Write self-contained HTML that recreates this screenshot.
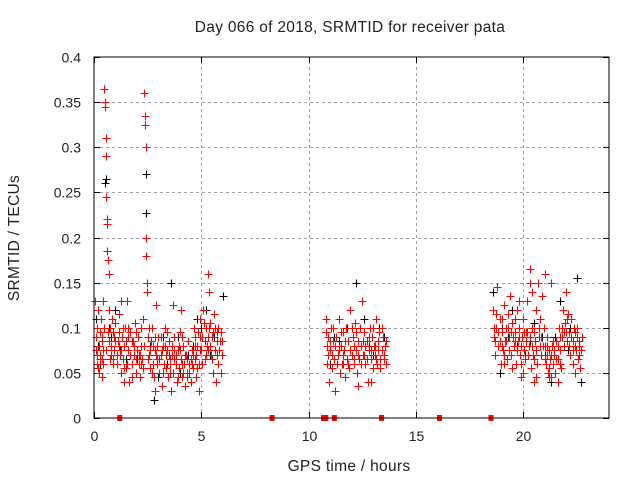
<!DOCTYPE html>
<html><head><meta charset="utf-8"><style>
body{margin:0;background:#fff}
svg text{font-family:"Liberation Sans",sans-serif;font-size:14px;fill:#222}
svg text.big{font-size:15.5px;letter-spacing:0.3px}
</style></head><body>
<svg id="chart" width="640" height="480" xmlns="http://www.w3.org/2000/svg">
<text class="big" x="350" y="32" text-anchor="middle">Day 066 of 2018, SRMTID for receiver pata</text>
<text class="big" x="349" y="471" text-anchor="middle">GPS time / hours</text>
<text class="big" transform="translate(19,238) rotate(-90)" text-anchor="middle">SRMTID / TECUs</text>
<g id="grid"></g>
<g id="ticks"></g>
<g id="black"></g>
<g id="red"></g>
<g id="sq"></g>
<rect x="94" y="57" width="515" height="361" fill="none" stroke="#000" stroke-width="1"/>
</svg>
<script>
const xTicks=[0,5,10,15,20];
const yTicks=[0,0.05,0.1,0.15,0.2,0.25,0.3,0.35,0.4];
const yTickLabels=["0","0.05","0.1","0.15","0.2","0.25","0.3","0.35","0.4"];
const squareTimes=[1.2,8.3,10.7,10.8,11.2,13.4,16.1,18.5];
const blackPts=[[0.1,.11],[0.3,.06],[0.5,.26],[0.55,.265],[0.8,.09],[1.2,.075],[1.6,.1],[2.0,.065],[2.4,.27],[2.42,.227],[2.8,.02],[3.2,.09],[3.6,.15],[4.0,.05],[4.4,.07],[4.8,.11],[5.2,.12],[5.6,.09],[6.0,.135],[11.0,.06],[11.4,.085],[11.8,.1],[12.2,.15],[12.6,.11],[13.0,.07],[13.5,.09],[18.6,.14],[18.9,.05],[19.3,.09],[19.7,.08],[20.1,.07],[20.5,.105],[20.9,.09],[21.3,.04],[21.7,.13],[22.1,.075],[22.5,.155],[22.7,.04],[1.0,.12],[3.0,.045],[0.2,.08],[0.7,.1],[1.5,.065],[2.6,.08],[3.4,.06],[3.9,.09],[4.6,.08],[5.0,.1],[5.4,.07],[5.9,.095],[11.2,.09],[12.0,.07],[12.8,.08],[13.3,.1],[19.0,.1],[19.5,.12],[20.3,.085],[21.0,.07],[21.5,.09],[22.2,.1],[22.6,.08]];
const redPts=[[0.05,.13],[0.1,.09],[0.12,.06],[0.15,.1],[0.2,.12],[0.22,.05],[0.25,.08],[0.3,.07],[0.32,.11],[0.35,.045],[0.38,.09],[0.4,.06],[0.42,.13],[0.45,.1],[0.48,.365],[0.5,.35],[0.52,.345],[0.55,.31],[0.57,.29],[0.58,.245],[0.6,.22],[0.6,.215],[0.62,.185],[0.65,.175],[0.68,.16],[0.7,.12],[0.72,.085],[0.75,.1],[0.8,.07],[0.85,.11],[0.9,.095],[0.95,.075],[1.0,.105],[1.05,.06],[1.1,.085],[1.15,.115],[1.2,.07],[1.25,.05],[1.3,.09],[1.35,.065],[1.4,.08],[1.45,.1],[1.5,.055],[1.55,.13],[1.6,.075],[1.65,.04],[1.7,.095],[1.75,.06],[1.8,.085],[1.85,.07],[1.9,.105],[1.95,.05],[2.0,.075],[2.05,.09],[2.1,.06],[2.15,.045],[2.2,.08],[2.25,.065],[2.3,.11],[2.35,.36],[2.37,.335],[2.38,.325],[2.4,.3],[2.42,.2],[2.44,.18],[2.46,.15],[2.48,.14],[2.5,.09],[2.55,.07],[2.6,.055],[2.65,.085],[2.7,.1],[2.75,.06],[2.8,.045],[2.85,.075],[2.9,.125],[2.95,.065],[3.0,.09],[3.05,.05],[3.1,.07],[3.15,.035],[3.2,.08],[3.25,.06],[3.3,.1],[3.35,.055],[3.4,.075],[3.45,.045],[3.5,.085],[3.55,.065],[3.6,.03],[3.65,.07],[3.7,.05],[3.75,.09],[3.8,.06],[3.85,.04],[3.9,.075],[3.95,.055],[4.0,.095],[4.05,.065],[4.1,.045],[4.15,.08],[4.2,.06],[4.25,.035],[4.3,.07],[4.35,.05],[4.4,.085],[4.45,.06],[4.5,.04],[4.55,.075],[4.6,.055],[4.65,.1],[4.7,.065],[4.75,.045],[4.8,.08],[4.85,.095],[4.9,.06],[4.95,.11],[5.0,.075],[5.05,.09],[5.1,.12],[5.15,.065],[5.2,.1],[5.25,.08],[5.3,.16],[5.35,.14],[5.4,.105],[5.45,.07],[5.5,.09],[5.55,.05],[5.6,.115],[5.65,.075],[5.7,.04],[5.75,.095],[5.8,.06],[5.85,.085],[5.9,.05],[5.95,.07],[0.15,.07],[0.35,.085],[0.55,.075],[0.75,.065],[0.95,.09],[1.15,.08],[1.35,.1],[1.55,.06],[1.75,.085],[1.95,.065],[2.15,.07],[2.35,.08],[2.55,.1],[2.75,.08],[2.95,.06],[3.15,.075],[3.35,.07],[3.55,.05],[3.75,.065],[3.95,.08],[4.15,.05],[4.35,.065],[4.55,.06],[4.75,.07],[4.95,.09],[5.15,.085],[5.35,.1],[5.55,.095],[5.75,.07],[5.95,.085],[1.25,.13],[3.7,.125],[4.05,.12],[1.4,.04],[2.85,.03],[4.9,.03],
[10.8,.11],[10.85,.06],[10.9,.09],[10.95,.04],[11.0,.075],[11.05,.1],[11.1,.055],[11.15,.085],[11.2,.065],[11.25,.03],[11.3,.09],[11.35,.07],[11.4,.11],[11.45,.05],[11.5,.08],[11.55,.06],[11.6,.095],[11.65,.075],[11.7,.045],[11.75,.1],[11.8,.065],[11.85,.085],[11.9,.055],[11.95,.12],[12.0,.07],[12.05,.09],[12.1,.06],[12.15,.105],[12.2,.075],[12.25,.05],[12.3,.085],[12.35,.065],[12.4,.1],[12.45,.08],[12.5,.13],[12.55,.07],[12.6,.095],[12.65,.06],[12.7,.085],[12.75,.04],[12.8,.075],[12.85,.1],[12.9,.065],[12.95,.09],[13.0,.055],[13.05,.08],[13.1,.07],[13.15,.11],[13.2,.06],[13.25,.085],[13.3,.095],[13.35,.065],[13.4,.075],[13.45,.09],[13.5,.07],[13.55,.08],[13.6,.06],[10.85,.08],[11.1,.07],[11.6,.06],[12.1,.08],[12.6,.07],[13.1,.08],[12.9,.04],[12.3,.035],
[18.6,.12],[18.65,.09],[18.7,.07],[18.75,.1],[18.8,.145],[18.85,.08],[18.9,.11],[18.95,.06],[19.0,.095],[19.05,.075],[19.1,.125],[19.15,.085],[19.2,.1],[19.25,.065],[19.3,.115],[19.35,.09],[19.4,.135],[19.45,.07],[19.5,.105],[19.55,.08],[19.6,.095],[19.65,.06],[19.7,.12],[19.75,.085],[19.8,.1],[19.85,.07],[19.9,.045],[19.95,.09],[20.0,.11],[20.05,.075],[20.1,.065],[20.15,.095],[20.2,.13],[20.25,.08],[20.3,.165],[20.35,.055],[20.4,.1],[20.45,.07],[20.5,.04],[20.55,.085],[20.6,.12],[20.65,.06],[20.7,.15],[20.75,.09],[20.8,.11],[20.85,.07],[20.9,.135],[20.95,.1],[21.0,.08],[21.05,.06],[21.1,.09],[21.15,.05],[21.2,.075],[21.25,.065],[21.3,.045],[21.35,.08],[21.4,.06],[21.45,.07],[21.5,.05],[21.55,.085],[21.6,.065],[21.65,.1],[21.7,.075],[21.75,.055],[21.8,.09],[21.85,.12],[21.9,.08],[21.95,.105],[22.0,.14],[22.05,.085],[22.1,.115],[22.15,.095],[22.2,.07],[22.25,.11],[22.3,.06],[22.35,.1],[22.4,.08],[22.45,.075],[22.5,.09],[22.55,.065],[22.6,.085],[22.65,.055],[22.7,.075],[18.7,.085],[19.0,.08],[19.3,.1],[19.6,.085],[19.9,.08],[20.2,.095],[20.5,.065],[20.8,.08],[21.1,.07],[21.4,.085],[21.7,.06],[22.0,.095],[22.3,.085],[22.6,.07],[20.3,.15],[21.0,.16]];
const redPtsExtra=[[0.08,.075],[0.18,.055],[0.28,.095],[0.38,.065],[0.44,.075],[0.66,.095],[0.78,.08],[0.88,.06],[0.98,.085],[1.08,.07],[1.18,.095],[1.28,.075],[1.38,.055],[1.48,.085],[1.58,.1],[1.68,.07],[1.78,.045],[1.88,.08],[1.98,.095],[2.08,.07],[2.18,.1],[2.28,.055],[2.52,.065],[2.62,.075],[2.72,.05],[2.82,.09],[2.92,.08],[3.02,.065],[3.12,.09],[3.22,.05],[3.32,.08],[3.42,.095],[3.52,.06],[3.62,.08],[3.72,.075],[3.82,.07],[3.92,.045],[4.02,.075],[4.12,.09],[4.22,.07],[4.32,.045],[4.42,.05],[4.52,.065],[4.62,.07],[4.72,.09],[4.82,.055],[4.92,.075],[5.02,.06],[5.12,.105],[5.22,.07],[5.32,.09],[5.42,.08],[5.52,.065],[5.62,.1],[5.72,.085],[5.82,.075],[5.92,.095],[0.28,.065],[0.9,.065],[1.6,.09],[2.2,.06],[2.9,.07],[3.5,.07],[4.1,.06],[4.7,.08],[5.3,.075],[5.8,.1],
[10.82,.095],[10.92,.07],[11.02,.085],[11.12,.1],[11.22,.08],[11.32,.06],[11.42,.075],[11.52,.095],[11.62,.07],[11.72,.085],[11.82,.06],[11.92,.075],[12.02,.1],[12.12,.065],[12.22,.095],[12.32,.07],[12.42,.06],[12.52,.085],[12.62,.08],[12.72,.065],[12.82,.09],[12.92,.075],[13.02,.1],[13.12,.065],[13.22,.075],[13.32,.055],[13.42,.1],[13.52,.065],[13.62,.085],
[18.62,.1],[18.72,.115],[18.82,.095],[18.92,.085],[19.02,.11],[19.12,.07],[19.22,.085],[19.32,.075],[19.42,.095],[19.52,.09],[19.62,.11],[19.72,.075],[19.82,.09],[19.92,.06],[20.02,.095],[20.12,.085],[20.22,.07],[20.32,.09],[20.42,.08],[20.52,.095],[20.62,.075],[20.72,.1],[20.82,.09],[20.92,.08],[21.02,.065],[21.12,.08],[21.22,.055],[21.32,.07],[21.42,.075],[21.52,.065],[21.62,.08],[21.72,.09],[21.82,.1],[21.92,.095],[22.02,.11],[22.12,.08],[22.22,.09],[22.32,.075],[22.42,.095],[22.52,.1],[22.62,.08],[22.72,.09],[19.1,.06],[19.5,.055],[20.0,.05],[20.6,.045],[21.2,.045],[21.6,.04],[22.4,.05],[19.8,.13],[20.4,.14],[21.3,.15]];

const X0=94,X1=609,Y0=418,Y1=57,XMAX=24,YMAX=0.4;
function sx(t){return X0+(X1-X0)*t/XMAX;}
function sy(v){return Y0-(Y0-Y1)*v/YMAX;}
const NS="http://www.w3.org/2000/svg";
function mk(tag,attrs,parent){const e=document.createElementNS(NS,tag);for(const k in attrs)e.setAttribute(k,attrs[k]);parent.appendChild(e);return e;}
const grid=document.getElementById('grid'),ticks=document.getElementById('ticks');
xTicks.forEach(t=>{
  const x=Math.round(sx(t))+0.5;
  if(t>0){const g=mk('line',{x1:x,y1:Y0,x2:x,y2:Y1,stroke:'#a0a0a0','stroke-dasharray':'3,3'},grid);
  
  }
  mk('line',{x1:x,y1:Y0,x2:x,y2:Y0-6,stroke:'#000'},ticks);
  mk('line',{x1:x,y1:Y1,x2:x,y2:Y1+6,stroke:'#000'},ticks);
  const l=mk('text',{x:x,y:Y0+23,'text-anchor':'middle'},ticks);l.textContent=t;
  
  
});
yTicks.forEach((v,i)=>{
  const y=Math.round(sy(v))+0.5;
  if(v>0&&v<YMAX){const g=mk('line',{x1:X0,y1:y,x2:X1,y2:y,stroke:'#a0a0a0','stroke-dasharray':'3,3'},grid);
  
  }
  mk('line',{x1:X0,y1:y,x2:X0+6,y2:y,stroke:'#000'},ticks);
  mk('line',{x1:X1,y1:y,x2:X1-6,y2:y,stroke:'#000'},ticks);
  const l=mk('text',{x:X0-13,y:y+5,'text-anchor':'end'},ticks);l.textContent=yTickLabels[i];
  
  
});
function plus(g,t,v,c){
  const x=Math.round(sx(t))+0.5,y=Math.round(sy(v))+0.5;
  const p=mk('path',{d:`M${x-4} ${y}H${x+4}M${x} ${y-4}V${y+4}`,stroke:c,'stroke-width':1.1,fill:'none'},g);
  
  
}
const gb=document.getElementById('black'),gr=document.getElementById('red');
blackPts.forEach(p=>plus(gb,p[0],p[1],'#000'));
redPts.forEach(p=>plus(gr,p[0],p[1],'#f00'));
redPtsExtra.forEach(p=>plus(gr,p[0],p[1],'#f00'));
const gs=document.getElementById('sq');
squareTimes.forEach(t=>{
  const r=mk('rect',{x:sx(t)-2.5,y:Y0-3,width:5,height:6,fill:'#f00'},gs);
  
  
});
</script>
</body></html>
